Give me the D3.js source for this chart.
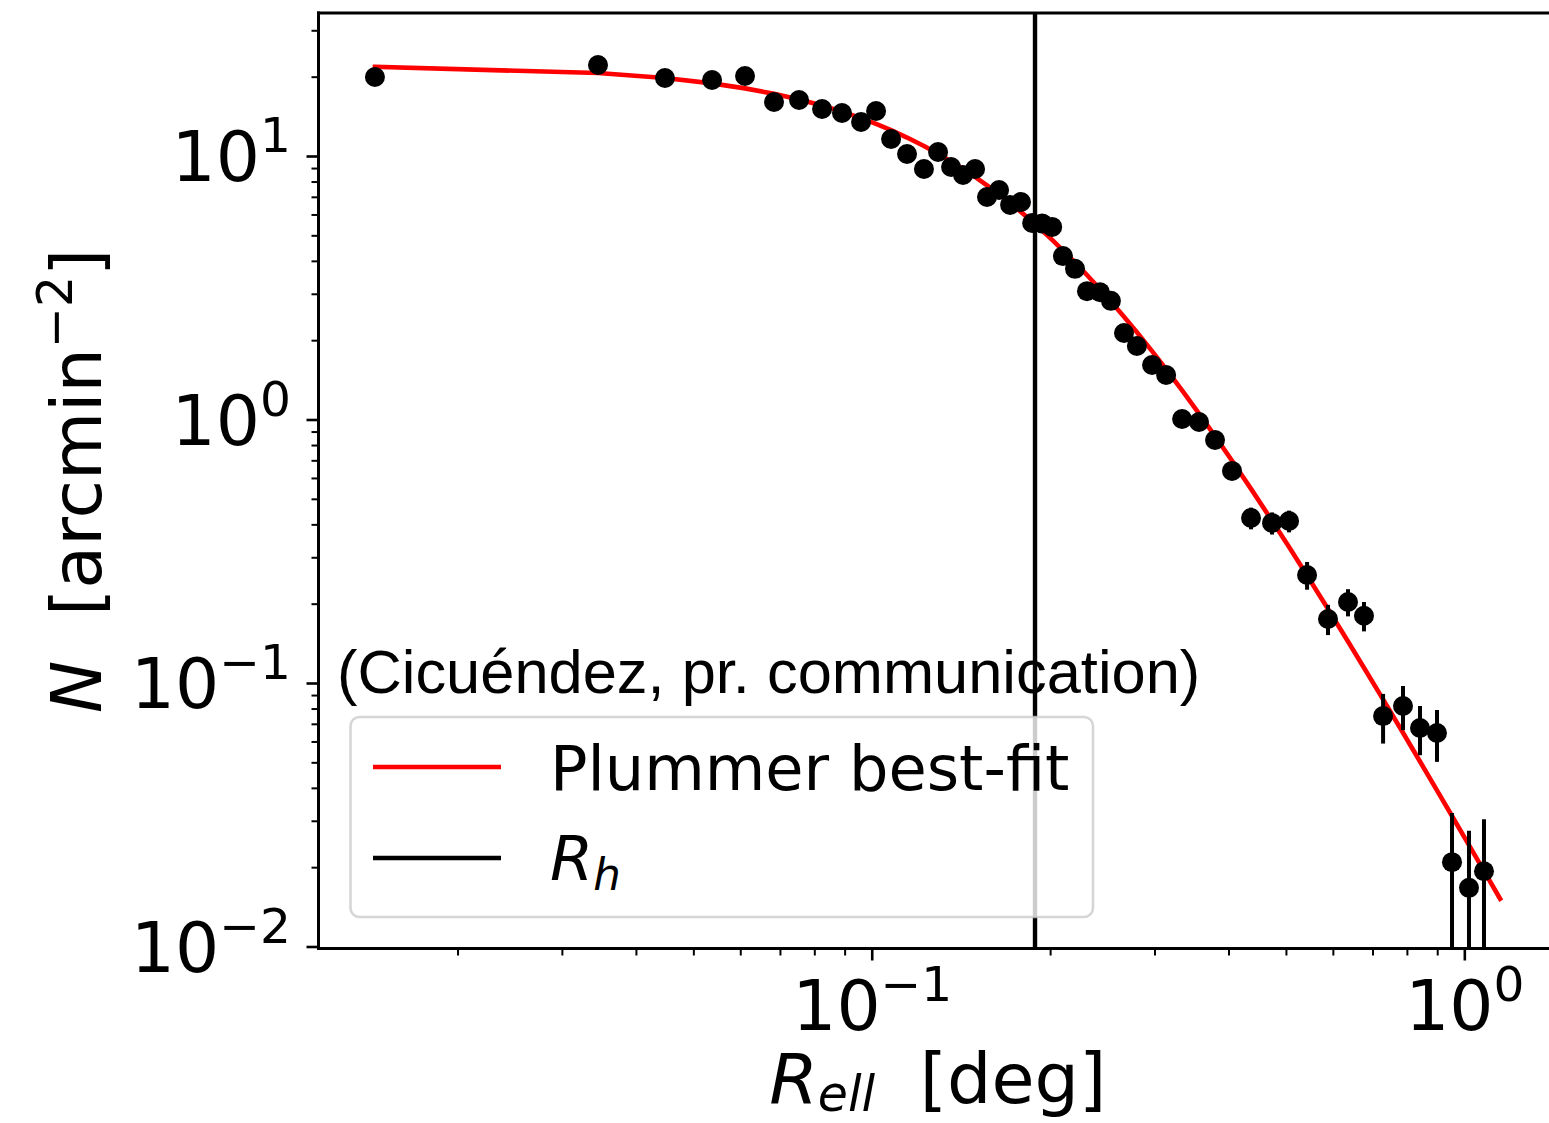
<!DOCTYPE html>
<html>
<head>
<meta charset="utf-8">
<script src="https://cdn.jsdelivr.net/npm/d3@7"></script>
<style>
  html, body { margin: 0; padding: 0; background: #fff; }
  svg { display: block; }
</style>
</head>
<body>
<svg id="chart" width="1549" height="1123"></svg>
<script>
// Elliptical radius of each radial bin [deg]
const binRadii = [0.01451, 0.03452, 0.04478, 0.05377, 0.06112, 0.06841, 0.07540, 0.08245, 0.08909, 0.09593,
  0.1017, 0.1078, 0.1147, 0.1225, 0.1294, 0.1361, 0.1426, 0.1494, 0.1565, 0.1640,
  0.1712, 0.1786, 0.1865, 0.1939, 0.2016, 0.2102, 0.2203, 0.2308, 0.2428, 0.2533,
  0.2665, 0.2802, 0.2972, 0.3139, 0.3340, 0.3567, 0.3796, 0.4055, 0.4366, 0.4737,
  0.5061, 0.5428, 0.5888, 0.6364, 0.6771, 0.7293, 0.7880, 0.8418, 0.8992, 0.9533,
  1.0183, 1.0794, 1.149];
// Stellar surface density per bin [arcmin^-2]; the last bin is empty
const density = [19.94, 22.15, 19.77, 19.43, 20.12, 16.03, 16.31, 15.08, 14.56, 13.46,
  14.82, 11.60, 10.18, 8.93, 10.36, 9.08, 8.47, 8.93, 6.99, 7.43,
  6.52, 6.69, 5.57, 5.55, 5.38, 4.17, 3.73, 3.07, 3.04, 2.82,
  2.13, 1.90, 1.61, 1.475, 1.004, 0.978, 0.836, 0.638, 0.423, 0.405,
  0.412, 0.257, 0.175, 0.203, 0.180, 0.0749, 0.0818, 0.0675, 0.0646, 0.0209,
  0.0167, 0.0193, 0];
// 1-sigma uncertainty of each density value
const densityErr = [0.27, 0.29, 0.27, 0.27, 0.27, 0.24, 0.25, 0.24, 0.23, 0.22,
  0.23, 0.21, 0.19, 0.18, 0.20, 0.18, 0.18, 0.18, 0.16, 0.17,
  0.16, 0.16, 0.14, 0.14, 0.14, 0.12, 0.12, 0.11, 0.11, 0.10,
  0.09, 0.084, 0.077, 0.074, 0.061, 0.060, 0.056, 0.049, 0.040, 0.039,
  0.039, 0.031, 0.023, 0.024, 0.023, 0.016, 0.0156, 0.0143, 0.0144, 0.0112,
  0.0108, 0.0111, 0];

// Plummer best-fit parameters: central density and half-light radius (= scale radius)
const plummerCentral = 22.05;
const halfLightRadius = 0.1886;

// Axis limits and decade tick labels
const xDomain = [0.011652, 1.4335];
const yDomain = [0.0098267, 34.889];
const xTickValues = [0.1, 1];
const xTickExponents = ["\u22121", "0"];
const yTickValues = [10, 1, 0.1, 0.01];
const yTickExponents = ["1", "0", "\u22121", "\u22122"];

const annotationText = "(Cicu\u00e9ndez, pr. communication)";
const legendFitLabel = "Plummer best-fit";

// ---------------------------------------------------------------
const FONT = "'DejaVu Sans', Verdana, sans-serif";
const TICK_FS = 69.5, LABEL_FS = 70, LEGEND_FS = 62.2;
const plot = { left: 318.5, right: 1557, top: 13, bottom: 948.5 };

const svg = d3.select("#chart");
svg.append("rect").attr("width", 1549).attr("height", 1123).attr("fill", "#fff");

const x = d3.scaleLog().domain(xDomain).range([plot.left, plot.right]);
const y = d3.scaleLog().domain(yDomain).range([plot.bottom, plot.top]);

function minorTicks(domain) {
  const out = [];
  for (let k = -3; k <= 2; k++) {
    for (let m = 2; m <= 9; m++) {
      const v = m * Math.pow(10, k);
      if (v >= domain[0] && v <= domain[1]) out.push(v);
    }
  }
  return out;
}

svg.append("defs").append("clipPath").attr("id", "plotClip")
  .append("rect")
  .attr("x", plot.left).attr("y", plot.top)
  .attr("width", plot.right - plot.left).attr("height", plot.bottom - plot.top);

// ---- x axis ticks
const xMinor = svg.append("g").attr("transform", `translate(0,${plot.bottom})`)
  .call(d3.axisBottom(x).tickValues(minorTicks(xDomain)).tickSize(7).tickSizeOuter(0).tickFormat(""));
const xMajor = svg.append("g").attr("transform", `translate(0,${plot.bottom})`)
  .call(d3.axisBottom(x).tickValues(xTickValues).tickSize(12).tickSizeOuter(0).tickFormat(""));
[xMinor, xMajor].forEach(g => g.select(".domain").remove());
xMinor.selectAll(".tick line").attr("stroke", "#000").attr("stroke-width", 2);
xMajor.selectAll(".tick line").attr("stroke", "#000").attr("stroke-width", 2.6);
xMajor.selectAll(".tick text").each(function (d, i) {
  const t = d3.select(this).text(null)
    .attr("y", 1030 - plot.bottom).attr("dy", null)
    .attr("font-family", FONT).attr("font-size", TICK_FS)
    .attr("fill", "#000").attr("text-anchor", "middle");
  t.append("tspan").text("10");
  t.append("tspan").attr("font-size", TICK_FS * 0.7).attr("dy", -0.42 * TICK_FS).text(xTickExponents[i]);
});

// ---- y axis ticks
const yMinor = svg.append("g").attr("transform", `translate(${plot.left},0)`)
  .call(d3.axisLeft(y).tickValues(minorTicks(yDomain)).tickSize(7).tickSizeOuter(0).tickFormat(""));
const yMajor = svg.append("g").attr("transform", `translate(${plot.left},0)`)
  .call(d3.axisLeft(y).tickValues(yTickValues).tickSize(12).tickSizeOuter(0).tickFormat(""));
[yMinor, yMajor].forEach(g => g.select(".domain").remove());
yMinor.selectAll(".tick line").attr("stroke", "#000").attr("stroke-width", 2);
yMajor.selectAll(".tick line").attr("stroke", "#000").attr("stroke-width", 2.6);
yMajor.selectAll(".tick text").each(function (d, i) {
  const t = d3.select(this).text(null)
    .attr("x", 291 - plot.left).attr("y", 25).attr("dy", null)
    .attr("font-family", FONT).attr("font-size", TICK_FS)
    .attr("fill", "#000").attr("text-anchor", "end");
  t.append("tspan").text("10");
  t.append("tspan").attr("font-size", TICK_FS * 0.7).attr("dy", -0.42 * TICK_FS).text(yTickExponents[i]);
});

// ---- data area
const area = svg.append("g").attr("clip-path", "url(#plotClip)");

// Plummer profile evaluated at the bin radii
const fitPoints = binRadii.map(r => ({ r, n: plummerCentral / Math.pow(1 + (r / halfLightRadius) ** 2, 2) }));
area.append("path")
  .datum(fitPoints)
  .attr("d", d3.line().x(d => x(d.r)).y(d => y(d.n)))
  .attr("fill", "none").attr("stroke", "#ff0000")
  .attr("stroke-width", 4.6).attr("stroke-linecap", "square").attr("stroke-linejoin", "round");

const obs = binRadii.map((r, i) => ({ r, n: density[i], e: densityErr[i] })).filter(d => d.n > 0);

// error bars (lower end clipped at the axis when it reaches zero)
area.selectAll("line.err").data(obs).enter().append("line")
  .attr("class", "err")
  .attr("x1", d => x(d.r)).attr("x2", d => x(d.r))
  .attr("y1", d => y(d.n + d.e))
  .attr("y2", d => (d.n - d.e) > yDomain[0] ? y(d.n - d.e) : plot.bottom + 20)
  .attr("stroke", "#000").attr("stroke-width", 4);

area.selectAll("circle.pt").data(obs).enter().append("circle")
  .attr("class", "pt")
  .attr("cx", d => x(d.r)).attr("cy", d => y(d.n)).attr("r", 10)
  .attr("fill", "#000");

// half-light radius marker
svg.append("line")
  .attr("x1", x(halfLightRadius)).attr("x2", x(halfLightRadius))
  .attr("y1", plot.top).attr("y2", plot.bottom)
  .attr("stroke", "#000").attr("stroke-width", 4.4);

// ---- spines
const spines = svg.append("g").attr("stroke", "#000").attr("stroke-width", 3).attr("stroke-linecap", "square");
spines.append("line").attr("x1", plot.left).attr("x2", plot.left).attr("y1", plot.top).attr("y2", plot.bottom);
spines.append("line").attr("x1", plot.left).attr("x2", plot.right).attr("y1", plot.bottom).attr("y2", plot.bottom);
spines.append("line").attr("x1", plot.left).attr("x2", plot.right).attr("y1", plot.top).attr("y2", plot.top);
spines.append("line").attr("x1", plot.right).attr("x2", plot.right).attr("y1", plot.top).attr("y2", plot.bottom);

// ---- axis labels
const xl = svg.append("text")
  .attr("x", (plot.left + plot.right) / 2).attr("y", 1103)
  .attr("text-anchor", "middle").attr("font-family", FONT).attr("font-size", LABEL_FS).attr("fill", "#000");
xl.append("tspan").attr("font-style", "italic").text("R");
xl.append("tspan").attr("font-style", "italic").attr("font-size", LABEL_FS * 0.7).attr("dy", 8).text("ell");
xl.append("tspan").attr("dy", -8).text("\u00a0\u00a0[deg]");

const yl = svg.append("text")
  .attr("transform", `translate(101,${(plot.top + plot.bottom) / 2}) rotate(-90)`)
  .attr("text-anchor", "middle").attr("font-family", FONT).attr("font-size", LABEL_FS).attr("fill", "#000");
yl.append("tspan").attr("font-style", "italic").text("N");
yl.append("tspan").text("\u00a0\u00a0[arcmin");
yl.append("tspan").attr("font-size", LABEL_FS * 0.7).attr("dy", -0.42 * LABEL_FS).text("\u22122");
yl.append("tspan").attr("dy", 0.42 * LABEL_FS).text("]");

// ---- source note
svg.append("text")
  .attr("x", 337).attr("y", 693)
  .attr("font-family", "'Liberation Sans', Arial, sans-serif").attr("font-size", 61.4).attr("fill", "#000")
  .text(annotationText);

// ---- legend
const lg = svg.append("g");
lg.append("rect")
  .attr("x", 350.5).attr("y", 717).attr("width", 742.5).attr("height", 200).attr("rx", 9)
  .attr("fill", "#fff").attr("fill-opacity", 0.8)
  .attr("stroke", "#cccccc").attr("stroke-opacity", 0.8).attr("stroke-width", 2.6);
lg.append("line").attr("x1", 373).attr("x2", 501).attr("y1", 767).attr("y2", 767)
  .attr("stroke", "#ff0000").attr("stroke-width", 4.6);
lg.append("line").attr("x1", 373).attr("x2", 501).attr("y1", 858).attr("y2", 858)
  .attr("stroke", "#000").attr("stroke-width", 4.4);
lg.append("text").attr("x", 550).attr("y", 790)
  .attr("font-family", FONT).attr("font-size", LEGEND_FS).attr("fill", "#000")
  .text(legendFitLabel);
const rh = lg.append("text").attr("x", 550).attr("y", 880)
  .attr("font-family", FONT).attr("font-size", LEGEND_FS).attr("fill", "#000");
rh.append("tspan").attr("font-style", "italic").text("R");
rh.append("tspan").attr("font-style", "italic").attr("font-size", LEGEND_FS * 0.7).attr("dy", 10).text("h");
</script>
</body>
</html>
